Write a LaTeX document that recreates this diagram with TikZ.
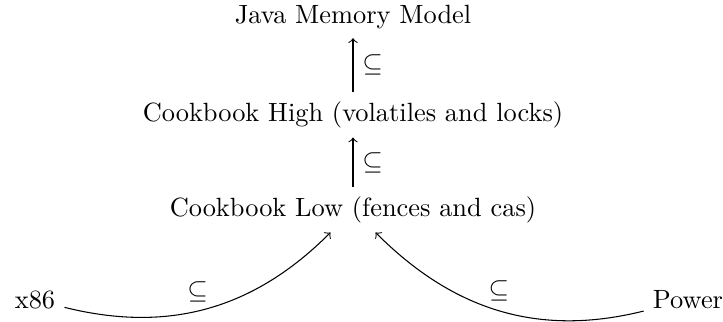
\documentclass[tikz,border=0pt]{standalone}
\usepackage{amssymb}

\begin{document}
\begin{tikzpicture}[x=0.379pt,y=0.379pt]
\useasboundingbox (0,0) rectangle (723,322);

% modelle
\node (jmm) at (353,305) {Java Memory Model};
\node (high) at (353,207) {Cookbook High (volatiles and locks)};
\node (low) at (353,112) {Cookbook Low (fences and cas)};
\node (x86) at (35,22) {x86};
\node (power) at (688,22) {Power};

% inklusionen
\draw [->] (low) -- node[right] {$\subseteq$} (high);
\draw [->] (high) -- node[right] {$\subseteq$} (jmm);
\draw [->] (x86) to[out=-14,in=225] node[pos=0.46,above] {$\subseteq$} (low);
\draw [->] (power) to[out=194,in=-45] node[above] {$\subseteq$} (low);

\end{tikzpicture}
\end{document}
